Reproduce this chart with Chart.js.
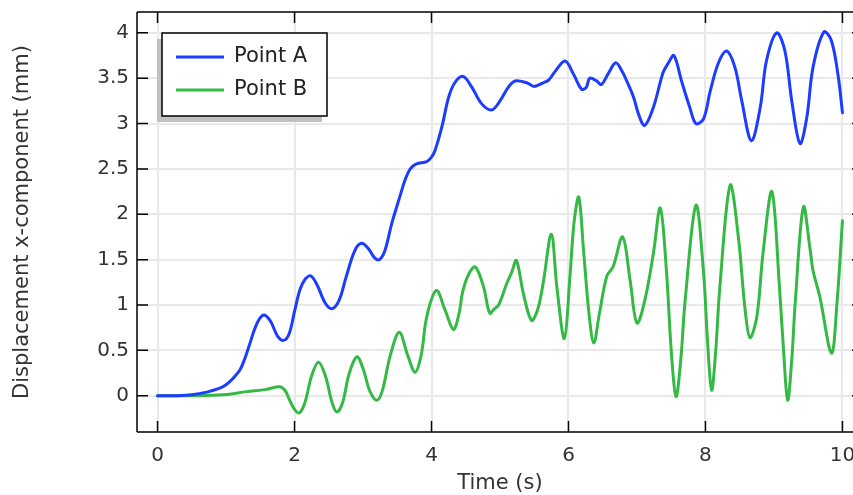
<!DOCTYPE html>
<html>
<head>
<meta charset="utf-8">
<script src="https://cdn.jsdelivr.net/npm/chart.js@4/dist/chart.umd.min.js"></script>
<style>
  html, body { margin: 0; padding: 0; background: #fff; overflow: hidden; width: 853px; height: 495px; }
  #wrap { position: absolute; left: 0; top: 0; width: 870px; height: 495px; }
</style>
</head>
<body>
<div id="wrap"><canvas id="c"></canvas></div>
<script>
// Displacement history of two probe points (time in s, displacement in mm)
const seriesNames = ['Point A', 'Point B'];
const seriesColors = ['#1c3cff', '#33b944'];

const timeA = [0, 0.3, 0.5, 0.72, 0.9, 1.0, 1.1, 1.2, 1.27, 1.35, 1.42, 1.49, 1.56, 1.65, 1.75, 1.84, 1.92, 2.0, 2.08, 2.16, 2.24, 2.33, 2.45, 2.55, 2.65, 2.75, 2.88, 2.98, 3.08, 3.17, 3.24, 3.32, 3.42, 3.54, 3.61, 3.69, 3.78, 3.93, 4.0, 4.05, 4.15, 4.25, 4.34, 4.46, 4.59, 4.73, 4.88, 5.0, 5.12, 5.22, 5.39, 5.5, 5.63, 5.71, 5.8, 5.95, 6.07, 6.19, 6.26, 6.31, 6.41, 6.48, 6.58, 6.69, 6.78, 6.85, 6.95, 7.02, 7.11, 7.24, 7.38, 7.46, 7.54, 7.65, 7.77, 7.86, 7.97, 8.07, 8.19, 8.31, 8.43, 8.53, 8.67, 8.8, 8.89, 9.04, 9.16, 9.26, 9.38, 9.48, 9.57, 9.73, 9.84, 9.94, 10.0];
const dispA = [0, 0, 0.01, 0.04, 0.08, 0.12, 0.19, 0.28, 0.4, 0.58, 0.74, 0.85, 0.89, 0.82, 0.66, 0.61, 0.68, 0.93, 1.17, 1.29, 1.32, 1.22, 1.02, 0.96, 1.05, 1.3, 1.6, 1.68, 1.62, 1.52, 1.5, 1.6, 1.9, 2.2, 2.37, 2.5, 2.555, 2.58, 2.63, 2.7, 2.96, 3.29, 3.45, 3.52, 3.4, 3.22, 3.15, 3.25, 3.4, 3.47, 3.45, 3.41, 3.45, 3.48, 3.57, 3.69, 3.55, 3.38, 3.4, 3.5, 3.47, 3.43, 3.55, 3.67, 3.58, 3.47, 3.29, 3.11, 2.98, 3.18, 3.56, 3.67, 3.75, 3.47, 3.18, 3.0, 3.05, 3.36, 3.67, 3.8, 3.62, 3.25, 2.81, 3.18, 3.69, 4.0, 3.8, 3.25, 2.78, 3.07, 3.62, 4.01, 3.91, 3.51, 3.12];

const timeB = [0, 0.5, 0.96, 1.3, 1.59, 1.78, 1.86, 1.93, 2.0, 2.07, 2.15, 2.25, 2.35, 2.45, 2.55, 2.62, 2.7, 2.8, 2.91, 3.0, 3.1, 3.2, 3.28, 3.4, 3.53, 3.65, 3.76, 3.85, 3.93, 4.07, 4.2, 4.32, 4.4, 4.46, 4.55, 4.64, 4.76, 4.85, 4.92, 4.98, 5.1, 5.17, 5.24, 5.34, 5.46, 5.55, 5.63, 5.75, 5.83, 5.94, 6.02, 6.08, 6.15, 6.22, 6.3, 6.37, 6.45, 6.56, 6.65, 6.79, 6.9, 7.0, 7.12, 7.24, 7.34, 7.43, 7.5, 7.57, 7.64, 7.7, 7.86, 7.97, 8.03, 8.09, 8.15, 8.21, 8.36, 8.48, 8.58, 8.65, 8.75, 8.84, 8.97, 9.08, 9.14, 9.2, 9.26, 9.31, 9.43, 9.53, 9.57, 9.67, 9.84, 9.92, 10.0];
const dispB = [0, 0, 0.01, 0.045, 0.07, 0.1, 0.06, -0.05, -0.15, -0.19, -0.08, 0.22, 0.37, 0.22, -0.08, -0.18, -0.08, 0.25, 0.43, 0.3, 0.05, -0.05, 0.05, 0.45, 0.7, 0.45, 0.26, 0.45, 0.87, 1.16, 0.94, 0.73, 0.9, 1.16, 1.35, 1.42, 1.2, 0.91, 0.96, 1.0, 1.24, 1.36, 1.49, 1.13, 0.83, 0.95, 1.24, 1.78, 1.2, 0.63, 1.3, 1.9, 2.19, 1.6, 0.9, 0.58, 0.9, 1.32, 1.42, 1.75, 1.27, 0.8, 1.07, 1.57, 2.07, 1.38, 0.5, -0.01, 0.4, 1.02, 2.1, 1.38, 0.6, 0.06, 0.5, 1.2, 2.32, 1.75, 0.94, 0.64, 0.87, 1.57, 2.25, 1.2, 0.5, -0.05, 0.4, 1.02, 2.08, 1.6, 1.38, 1.09, 0.47, 1.02, 1.93];

const xTicks = [0, 2, 4, 6, 8, 10];
const yTicks = [0, 0.5, 1, 1.5, 2, 2.5, 3, 3.5, 4];
const xTitle = 'Time (s)';
const yTitle = 'Displacement x-component (mm)';

const FONT = 'DejaVu Sans';
const TEXT = '#333333';

function toPoints(ts, vs) { return ts.map((t, i) => ({ x: t, y: vs[i] })); }

// Black frame with inward tick marks on all four sides
const framePlugin = {
  id: 'frame',
  afterDatasetsDraw(chart) {
    const { ctx, chartArea: a, scales } = chart;
    const len = 11;
    ctx.save();
    ctx.strokeStyle = '#000';
    ctx.lineWidth = 1.5;
    ctx.beginPath();
    ctx.moveTo(a.left, a.top); ctx.lineTo(a.right, a.top);
    ctx.moveTo(a.left, a.top); ctx.lineTo(a.left, a.bottom);
    ctx.moveTo(a.left, a.bottom); ctx.lineTo(a.right, a.bottom);
    ctx.moveTo(a.right, a.top); ctx.lineTo(a.right, a.bottom);
    xTicks.forEach(v => {
      const px = scales.x.getPixelForValue(v);
      ctx.moveTo(px, a.bottom); ctx.lineTo(px, a.bottom - len);
      ctx.moveTo(px, a.top); ctx.lineTo(px, a.top + len);
    });
    yTicks.forEach(v => {
      const py = scales.y.getPixelForValue(v);
      ctx.moveTo(a.left, py); ctx.lineTo(a.left + len, py);
      ctx.moveTo(a.right, py); ctx.lineTo(a.right - len, py);
    });
    ctx.stroke();
    ctx.restore();
  }
};

// Boxed legend with a drop shadow in the upper left corner
const boxLegendPlugin = {
  id: 'boxLegend',
  afterDraw(chart) {
    const { ctx, chartArea: a } = chart;
    const bx = a.left + 25, by = a.top + 21, bw = 165, bh = 83;
    ctx.save();
    ctx.fillStyle = '#c0c0c0';
    ctx.fillRect(bx - 5, by + 6, bw, bh);
    ctx.fillStyle = '#fff';
    ctx.fillRect(bx, by, bw, bh);
    ctx.strokeStyle = '#000';
    ctx.lineWidth = 1.5;
    ctx.strokeRect(bx, by, bw, bh);
    ctx.font = '21px "' + FONT + '"';
    ctx.textBaseline = 'middle';
    ctx.textAlign = 'left';
    chart.data.datasets.forEach((ds, i) => {
      const y = by + 24 + i * 33;
      ctx.strokeStyle = ds.borderColor;
      ctx.lineWidth = 3;
      ctx.beginPath();
      ctx.moveTo(bx + 14, y); ctx.lineTo(bx + 62, y);
      ctx.stroke();
      ctx.fillStyle = '#222';
      ctx.fillText(ds.label, bx + 72, y);
    });
    ctx.restore();
  }
};

new Chart(document.getElementById('c'), {
  type: 'line',
  data: {
    datasets: [
      { label: seriesNames[0], data: toPoints(timeA, dispA), borderColor: seriesColors[0], backgroundColor: seriesColors[0] },
      { label: seriesNames[1], data: toPoints(timeB, dispB), borderColor: seriesColors[1], backgroundColor: seriesColors[1] }
    ]
  },
  options: {
    responsive: true,
    maintainAspectRatio: false,
    animation: false,
    layout: { padding: { top: 12, right: 7, left: 0, bottom: 0 } },
    elements: {
      point: { radius: 0, hoverRadius: 0 },
      line: { borderWidth: 3, tension: 0.35, borderJoinStyle: 'round', borderCapStyle: 'round' }
    },
    plugins: { legend: { display: false }, tooltip: { enabled: false } },
    scales: {
      x: {
        type: 'linear',
        min: -0.3,
        max: 10.3,
        afterBuildTicks: s => { s.ticks = xTicks.map(v => ({ value: v })); },
        afterFit: s => { s.height = 63; s.paddingLeft = 0; s.paddingRight = 0; },
        ticks: { padding: 12, color: TEXT, font: { family: FONT, size: 20 }, callback: v => String(v), maxRotation: 0 },
        grid: { color: '#e9e9e9', lineWidth: 2, drawTicks: false },
        border: { display: false },
        title: { display: true, text: xTitle, color: TEXT, font: { family: FONT, size: 21, lineHeight: 1.1 }, padding: { top: 0, bottom: 0 } }
      },
      y: {
        type: 'linear',
        min: -0.4,
        max: 4.23,
        afterBuildTicks: s => { s.ticks = yTicks.map(v => ({ value: v })); },
        afterFit: s => { s.width = 137; s.paddingTop = 0; s.paddingBottom = 0; },
        ticks: { padding: 8, color: TEXT, font: { family: FONT, size: 20 }, callback: v => String(v) },
        grid: { color: '#e9e9e9', lineWidth: 2, drawTicks: false },
        border: { display: false },
        title: { display: true, text: yTitle, color: TEXT, font: { family: FONT, size: 21, lineHeight: 1.2 }, padding: { top: 10, bottom: 0 } }
      }
    }
  },
  plugins: [framePlugin, boxLegendPlugin]
});
</script>
</body>
</html>
